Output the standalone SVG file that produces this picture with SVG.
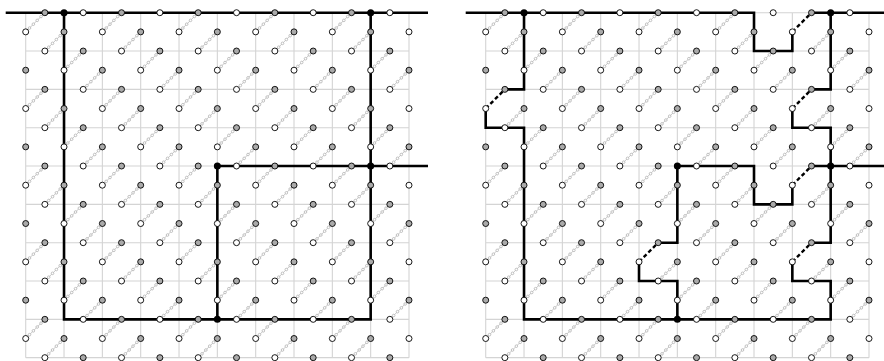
<svg xmlns="http://www.w3.org/2000/svg" width="884" height="361" viewBox="0 0 884 361">
<style>
.grid{fill:none;stroke:#d4d4d4;stroke-width:1.1}
.cl{stroke:#c6c6c6;stroke-width:1}
.cc{fill:#fff;stroke:#b2b2b2;stroke-width:0.8}
.w{fill:#fff;stroke:#000;stroke-width:0.9}
.g{fill:#aaa;stroke:#000;stroke-width:0.9}
.b{fill:#000}
.p{fill:none;stroke:#000;stroke-width:2.6;stroke-linejoin:miter}
.d{fill:none;stroke:#000;stroke-width:2.4;stroke-dasharray:4 2.6}
.u{fill:none;stroke:#fff;stroke-width:4.5}
</style>
<defs>
<g id="c"><line class="cl" x1="0" y1="0" x2="19.17" y2="-19.17"/><circle class="cc" cx="3.83" cy="-3.83" r="1.3"/><circle class="cc" cx="7.67" cy="-7.67" r="1.3"/><circle class="cc" cx="11.5" cy="-11.5" r="1.3"/><circle class="cc" cx="15.33" cy="-15.33" r="1.3"/></g>
<g id="cA"><use href="#c" x="0"/><use href="#c" x="76.66"/><use href="#c" x="153.32"/><use href="#c" x="229.98"/><use href="#c" x="306.64"/></g>
<g id="cB"><use href="#c" x="38.33"/><use href="#c" x="114.99"/><use href="#c" x="191.65"/><use href="#c" x="268.31"/><use href="#c" x="344.97"/></g>
<g id="base">
<path class="grid" d="M0 0v344.97M38.33 0v344.97M76.66 0v344.97M114.99 0v344.97M153.32 0v344.97M191.65 0v344.97M229.98 0v344.97M268.31 0v344.97M306.64 0v344.97M344.97 0v344.97M383.3 0v344.97M0 0h383.3M0 38.33h383.3M0 76.66h383.3M0 114.99h383.3M0 153.32h383.3M0 191.65h383.3M0 229.98h383.3M0 268.31h383.3M0 306.64h383.3M0 344.97h383.3"/>
<use href="#cA" y="19.17"/><use href="#cB" y="57.5"/><use href="#cA" y="95.83"/><use href="#cB" y="134.16"/><use href="#cA" y="172.49"/><use href="#cB" y="210.82"/><use href="#cA" y="249.15"/><use href="#cB" y="287.48"/><use href="#cA" y="325.81"/>
<use href="#cA" x="19.17" y="38.33"/><use href="#cB" x="19.17" y="76.66"/><use href="#cA" x="19.17" y="114.99"/><use href="#cB" x="19.17" y="153.32"/><use href="#cA" x="19.17" y="191.65"/><use href="#cB" x="19.17" y="229.98"/><use href="#cA" x="19.17" y="268.31"/><use href="#cB" x="19.17" y="306.64"/><use href="#cA" x="19.17" y="344.97"/>
</g>
<g id="hE"><circle class="g" cx="19.17" r="3"/><circle class="w" cx="57.5" r="3"/><circle class="g" cx="95.83" r="3"/><circle class="w" cx="134.16" r="3"/><circle class="g" cx="172.49" r="3"/><circle class="w" cx="210.82" r="3"/><circle class="g" cx="249.15" r="3"/><circle class="w" cx="287.48" r="3"/><circle class="g" cx="325.81" r="3"/><circle class="w" cx="364.14" r="3"/></g>
<g id="hO"><circle class="w" cx="19.17" r="3"/><circle class="g" cx="57.5" r="3"/><circle class="w" cx="95.83" r="3"/><circle class="g" cx="134.16" r="3"/><circle class="w" cx="172.49" r="3"/><circle class="g" cx="210.82" r="3"/><circle class="w" cx="249.15" r="3"/><circle class="g" cx="287.48" r="3"/><circle class="w" cx="325.81" r="3"/><circle class="g" cx="364.14" r="3"/></g>
<g id="vE"><circle class="w" cx="0" r="3"/><circle class="g" cx="38.33" r="3"/><circle class="w" cx="76.66" r="3"/><circle class="g" cx="114.99" r="3"/><circle class="w" cx="153.32" r="3"/><circle class="g" cx="191.65" r="3"/><circle class="w" cx="229.98" r="3"/><circle class="g" cx="268.31" r="3"/><circle class="w" cx="306.64" r="3"/><circle class="g" cx="344.97" r="3"/><circle class="w" cx="383.3" r="3"/></g>
<g id="vO"><circle class="g" cx="0" r="3"/><circle class="w" cx="38.33" r="3"/><circle class="g" cx="76.66" r="3"/><circle class="w" cx="114.99" r="3"/><circle class="g" cx="153.32" r="3"/><circle class="w" cx="191.65" r="3"/><circle class="g" cx="229.98" r="3"/><circle class="w" cx="268.31" r="3"/><circle class="g" cx="306.64" r="3"/><circle class="w" cx="344.97" r="3"/><circle class="g" cx="383.3" r="3"/></g>
<g id="nodes">
<use href="#hE" y="0"/><use href="#hO" y="38.33"/><use href="#hE" y="76.66"/><use href="#hO" y="114.99"/><use href="#hE" y="153.32"/><use href="#hO" y="191.65"/><use href="#hE" y="229.98"/><use href="#hO" y="268.31"/><use href="#hE" y="306.64"/><use href="#hO" y="344.97"/>
<use href="#vE" y="19.17"/><use href="#vO" y="57.5"/><use href="#vE" y="95.83"/><use href="#vO" y="134.16"/><use href="#vE" y="172.49"/><use href="#vO" y="210.82"/><use href="#vE" y="249.15"/><use href="#vO" y="287.48"/><use href="#vE" y="325.81"/>
</g>
<g id="bd"><circle class="b" cx="38.33" cy="0" r="3.5"/><circle class="b" cx="344.97" cy="0" r="3.5"/><circle class="b" cx="191.65" cy="153.32" r="3.5"/><circle class="b" cx="344.97" cy="153.32" r="3.5"/><circle class="b" cx="191.65" cy="306.64" r="3.5"/></g>
</defs>
<g id="left-panel" transform="translate(25.7,12.7)">
<use href="#base"/>
<g id="left-connectors">
<path class="p" d="M-20 0H402.3M38.33 0V306.64H344.97V0M402.3 153.32H191.65V306.64"/>
</g>
<use href="#nodes"/>
<use href="#bd"/>
</g>
<g id="right-panel" transform="translate(485.7,12.7)">
<use href="#base"/>
<g id="right-connectors">
<path class="u" d="M306.64 19.17L325.81 0M306.64 95.83L325.81 76.66M0 95.83L19.17 76.66M306.64 172.49L325.81 153.32M306.64 249.15L325.81 229.98M153.32 249.15L172.49 229.98"/>
<path class="p" d="M-20 0H268.31V38.33H306.64V19.17M325.81 0H420"/>
<path class="p" d="M38.33 0V76.66H19.17M0 95.83V114.99H38.33V306.64H344.97V268.31H306.64V249.15M325.81 229.98H344.97V114.99H306.64V95.83M325.81 76.66H344.97V0"/>
<path class="p" d="M191.65 153.32H268.31V191.65H306.64V172.49M325.81 153.32H420"/>
<path class="p" d="M191.65 153.32V229.98H172.49M153.32 249.15V268.31H191.65V306.64"/>
<path class="d" d="M306.64 19.17L325.81 0M306.64 95.83L325.81 76.66M0 95.83L19.17 76.66M306.64 172.49L325.81 153.32M306.64 249.15L325.81 229.98M153.32 249.15L172.49 229.98"/>
</g>
<use href="#nodes"/>
<use href="#bd"/>
</g>
</svg>
